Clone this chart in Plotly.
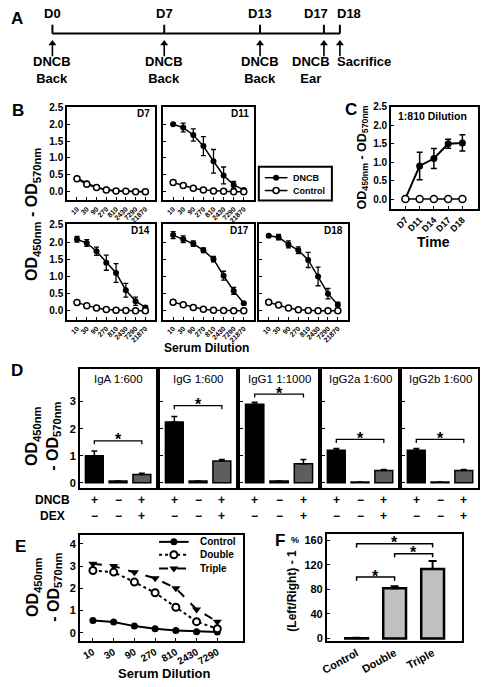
import plotly.graph_objects as go

W, H = 483, 687
FONT = "Liberation Sans, Arial, Helvetica, sans-serif"

# ---------------- Panel A data ----------------
a_days = [0, 7, 13, 17, 18]
a_day_labels = ["D0", "D7", "D13", "D17", "D18"]
a_events = ["DNCB<br>Back", "DNCB<br>Back", "DNCB<br>Back", "DNCB<br>Ear", "Sacrifice"]

# ---------------- Panel B data ----------------
b_dilutions = ["10", "30", "90", "270", "810", "2430", "7290", "21870"]
b_panel_names = ["D7", "D11", "D14", "D17", "D18"]
b_d7_dncb = [0.40, 0.25, 0.13, 0.06, 0.02, 0.01, 0.00, 0.00]
b_d7_dncb_err = [0.02, 0.02, 0.01, 0.01, 0.01, 0.00, 0.00, 0.00]
b_d7_ctrl = [0.38, 0.22, 0.12, 0.05, 0.02, 0.01, 0.00, 0.00]
b_d11_dncb = [2.00, 1.90, 1.68, 1.35, 0.90, 0.48, 0.20, 0.05]
b_d11_dncb_err = [0.02, 0.13, 0.18, 0.28, 0.35, 0.25, 0.10, 0.04]
b_d11_ctrl = [0.27, 0.18, 0.10, 0.05, 0.02, 0.01, 0.00, 0.00]
b_d14_dncb = [2.08, 1.97, 1.73, 1.40, 1.10, 0.60, 0.28, 0.10]
b_d14_dncb_err = [0.08, 0.10, 0.12, 0.22, 0.27, 0.20, 0.12, 0.05]
b_d14_ctrl = [0.24, 0.15, 0.08, 0.04, 0.02, 0.01, 0.00, 0.00]
b_d17_dncb = [2.20, 2.08, 1.95, 1.76, 1.50, 1.02, 0.58, 0.22]
b_d17_dncb_err = [0.10, 0.10, 0.08, 0.07, 0.08, 0.13, 0.10, 0.04]
b_d17_ctrl = [0.25, 0.18, 0.10, 0.05, 0.02, 0.01, 0.00, 0.00]
b_d18_dncb = [2.18, 2.14, 1.93, 1.76, 1.48, 1.00, 0.50, 0.18]
b_d18_dncb_err = [0.03, 0.08, 0.10, 0.10, 0.22, 0.27, 0.15, 0.07]
b_d18_ctrl = [0.25, 0.17, 0.08, 0.03, 0.01, 0.00, 0.00, 0.00]

# ---------------- Panel C data ----------------
c_times = ["D7", "D11", "D14", "D17", "D18"]
c_dncb = [0.02, 0.90, 1.10, 1.50, 1.52]
c_dncb_err = [0.00, 0.37, 0.27, 0.12, 0.22]
c_ctrl = [0.01, 0.01, 0.01, 0.01, 0.01]

# ---------------- Panel D data ----------------
d_titles = ["IgA 1:600", "IgG 1:600", "IgG1 1:1000", "IgG2a 1:600", "IgG2b 1:600"]
d_dncb_signs = ["+", "\u2212", "+"]
d_dex_signs = ["\u2212", "\u2212", "+"]
d_iga = [1.00, 0.06, 0.30]
d_iga_err = [0.17, 0.00, 0.05]
d_igg = [2.25, 0.06, 0.80]
d_igg_err = [0.20, 0.00, 0.06]
d_igg1 = [2.90, 0.06, 0.70]
d_igg1_err = [0.08, 0.00, 0.16]
d_igg2a = [1.20, 0.03, 0.45]
d_igg2a_err = [0.07, 0.00, 0.04]
d_igg2b = [1.20, 0.03, 0.45]
d_igg2b_err = [0.07, 0.00, 0.04]
d_bracket = [1.55, 2.85, 3.28, 1.60, 1.60]

# ---------------- Panel E data ----------------
e_dilutions = ["10", "30", "90", "270", "810", "2430", "7290"]
e_control = [0.55, 0.48, 0.30, 0.18, 0.10, 0.05, 0.03]
e_double = [2.80, 2.73, 2.28, 1.80, 1.15, 0.50, 0.18]
e_triple = [3.10, 3.00, 2.72, 2.45, 2.00, 1.05, 0.50]

# ---------------- Panel F data ----------------
f_groups = ["Control", "Double", "Triple"]
f_values = [0.5, 82, 113]
f_err = [1.0, 3.0, 13.0]
f_bracket_from = [0, 1, 0]
f_bracket_to = [1, 2, 2]
f_bracket_level = [100, 138, 154]

# ======================================================
fig = go.Figure()
layout = dict(width=W, height=H, margin=dict(l=0, r=0, t=0, b=0),
              paper_bgcolor="white", plot_bgcolor="rgba(0,0,0,0)",
              showlegend=False, font=dict(family=FONT, color="black"))
annotations = []
shapes = []


def tf(size, bold=True):
    d = dict(family=FONT, size=size, color="black")
    if bold:
        d["weight"] = "bold"
    return d


def make_axes(n, box, xr, yr, xkw=None, ykw=None, frame=True):
    x0, x1, y0, y1 = box
    xs = "" if n == 1 else str(n)
    base = dict(showgrid=False, zeroline=False, showline=frame, mirror=frame,
                linewidth=2, linecolor="black", ticks="inside", ticklen=3,
                tickwidth=1.2, tickcolor="black", tickfont=tf(10), fixedrange=True)
    xa = dict(base)
    xa.update(domain=[x0 / W, x1 / W], range=xr, anchor="y" + xs)
    if xkw:
        xa.update(xkw)
    ya = dict(base)
    ya.update(domain=[1 - y1 / H, 1 - y0 / H], range=yr, anchor="x" + xs)
    if ykw:
        ya.update(ykw)
    layout["xaxis" + xs] = xa
    layout["yaxis" + xs] = ya


def add(tr, n):
    xs = "" if n == 1 else str(n)
    tr.update(xaxis="x" + xs, yaxis="y" + xs, hoverinfo="skip")
    fig.add_trace(tr)


def ptxt(x, y, s, size, bold=True, xanchor="center", yanchor="middle", angle=0):
    annotations.append(dict(x=x / W, y=1 - y / H, xref="paper", yref="paper", text=s,
                            showarrow=False, font=tf(size, bold), xanchor=xanchor,
                            yanchor=yanchor, textangle=angle))


# ---------------- Panel A ----------------
make_axes(1, (0, 483, 0, 90), [-2.907, 26.96], [-61, 29], frame=False,
          xkw=dict(visible=False), ykw=dict(visible=False))
add(go.Scatter(x=[a_days[0], a_days[-1]], y=[0, 0], mode="lines",
               line=dict(color="black", width=2)), 1)
tx, ty, sx, sy = [], [], [], []
for d in a_days:
    tx += [d, d, None]
    ty += [0, 9, None]
    sx += [d, d, None]
    sy += [-23, -11, None]
add(go.Scatter(x=tx, y=ty, mode="lines", line=dict(color="black", width=2)), 1)
add(go.Scatter(x=sx, y=sy, mode="lines", line=dict(color="black", width=1.6)), 1)
add(go.Scatter(x=a_days, y=[-10] * len(a_days), mode="markers",
               marker=dict(symbol="triangle-up", size=7, color="black")), 1)
day_shift = [0, 0, 0, -8, 9]
ev_shift = [0, 0, 0, -13, -5]
for d, lab, ev, s1, s2 in zip(a_days, a_day_labels, a_events, day_shift, ev_shift):
    annotations.append(dict(x=d, y=20, xref="x", yref="y", text=lab, showarrow=False,
                            font=tf(13), xshift=s1))
    if "<br>" in ev:
        annotations.append(dict(x=d, y=-36.5, xref="x", yref="y", text=ev, showarrow=False,
                                font=tf(13), xshift=s2))
    else:
        annotations.append(dict(x=d, y=-28, xref="x", yref="y", text=ev, showarrow=False,
                                font=tf(13), xanchor="left", xshift=s2))
ptxt(11, 14, "A", 17)

# ---------------- Panel B ----------------
b_all = [(b_d7_dncb, b_d7_dncb_err, b_d7_ctrl), (b_d11_dncb, b_d11_dncb_err, b_d11_ctrl),
         (b_d14_dncb, b_d14_dncb_err, b_d14_ctrl), (b_d17_dncb, b_d17_dncb_err, b_d17_ctrl),
         (b_d18_dncb, b_d18_dncb_err, b_d18_ctrl)]
b_boxes = [(62, 151, 103, 198), (159, 251, 103, 198), (62, 151, 222, 319),
           (159, 251, 222, 319), (256, 346, 222, 319)]
b_ylab = [True, False, True, False, False]
bx = list(range(len(b_dilutions)))
for i, ((dn, de, ct), box, yl, name) in enumerate(zip(b_all, b_boxes, b_ylab, b_panel_names)):
    n = 2 + i
    make_axes(n, box, [-1, 8], [-0.26, 2.52],
              xkw=dict(tickvals=bx, ticktext=b_dilutions, tickangle=-45, tickfont=tf(7)),
              ykw=dict(tickvals=[0, 0.5, 1, 1.5, 2, 2.5], tickformat=".1f",
                       showticklabels=yl, tickfont=tf(10)))
    add(go.Scatter(x=bx, y=dn, mode="lines+markers", line=dict(color="black", width=1.5),
                   marker=dict(symbol="circle", size=6, color="black"),
                   error_y=dict(type="data", array=de, color="black", thickness=1.3, width=2.5)), n)
    add(go.Scatter(x=bx, y=ct, mode="lines+markers", line=dict(color="black", width=1.5),
                   marker=dict(symbol="circle", size=6, color="white",
                               line=dict(color="black", width=1.5))), n)
    ptxt(box[1] - 3, box[2] + 7, name, 10, xanchor="right")
ptxt(12, 107, "B", 17)
ptxt(27, 212, "OD<sub>450nm</sub> - OD<sub>570nm</sub>", 16, angle=-90)
ptxt(203, 348, "Serum Dilution", 12)

# B legend (pixel overlay axis 16)
make_axes(16, (0, 483, 0, 687), [0, 483], [687, 0], frame=False,
          xkw=dict(visible=False), ykw=dict(visible=False))
shapes.append(dict(type="rect", xref="paper", yref="paper", x0=256 / W, x1=330 / W,
                   y0=1 - 198 / H, y1=1 - 164 / H, line=dict(color="black", width=2)))
add(go.Scatter(x=[262, 285], y=[175, 175], mode="lines", line=dict(color="black", width=1.5)), 16)
add(go.Scatter(x=[273.5], y=[175], mode="markers", marker=dict(size=6, color="black")), 16)
add(go.Scatter(x=[262, 285], y=[188, 188], mode="lines", line=dict(color="black", width=1.5)), 16)
add(go.Scatter(x=[273.5], y=[188], mode="markers",
               marker=dict(size=6, color="white", line=dict(color="black", width=1.5))), 16)
ptxt(289, 175, "DNCB", 9, xanchor="left")
ptxt(289, 188, "Control", 9, xanchor="left")

# ---------------- Panel C ----------------
cx = list(range(len(c_times)))
make_axes(8, (390, 478, 103, 207), [-1, 5.1], [-0.27, 2.5],
          xkw=dict(tickvals=cx, ticktext=c_times, tickangle=-45, tickfont=tf(9)),
          ykw=dict(tickvals=[0, 0.5, 1, 1.5, 2, 2.5], tickformat=".1f", tickfont=tf(10)))
add(go.Scatter(x=cx, y=c_dncb, mode="lines+markers", line=dict(color="black", width=2),
               marker=dict(size=7, color="black"),
               error_y=dict(type="data", array=c_dncb_err, color="black", thickness=1.5, width=3)), 8)
add(go.Scatter(x=cx, y=c_ctrl, mode="lines+markers", line=dict(color="black", width=1.5),
               marker=dict(size=7, color="white", line=dict(color="black", width=1.5))), 8)
ptxt(349, 106, "C", 17)
ptxt(432, 112, "1:810 Dilution", 10.5)
ptxt(433, 240, "Time", 14)
ptxt(361, 155, "OD<sub>450nm</sub> - OD<sub>570nm</sub>", 12.5, angle=-90)

# ---------------- Panel D ----------------
d_vals = [d_iga, d_igg, d_igg1, d_igg2a, d_igg2b]
d_errs = [d_iga_err, d_igg_err, d_igg1_err, d_igg2a_err, d_igg2b_err]
d_boxes_x = [(75, 152), (156, 233), (237, 316), (320, 397), (401, 478)]
d_xrange = [-0.6, 2.6]
dx = [0, 1, 2]
for i in range(5):
    n = 9 + i
    x0, x1 = d_boxes_x[i]
    make_axes(n, (x0, x1, 369, 489), d_xrange, [-0.18, 4.2],
              xkw=dict(ticks="", showticklabels=False),
              ykw=dict(tickvals=[0, 1, 2, 3], showticklabels=(i == 0), tickfont=tf(11)))
    add(go.Bar(x=dx, y=d_vals[i], width=0.75,
               marker=dict(color=["black", "black", "#5e5e5e"], line=dict(color="black", width=1.5)),
               error_y=dict(type="data", array=d_errs[i], arrayminus=[0, 0, 0], symmetric=False,
                            color="black", thickness=1.5, width=3)), n)
    b = d_bracket[i]
    add(go.Scatter(x=[0, 0, 2, 2], y=[b - 0.13, b, b, b - 0.13], mode="lines",
                   line=dict(color="black", width=1.3)), n)
    annotations.append(dict(x=1, y=b, xref="x%d" % n, yref="y%d" % n, text="*", showarrow=False,
                            font=tf(16), yanchor="middle", yshift=1))
    ptxt((x0 + x1) / 2, 379, d_titles[i], 11.5, bold=False)
    for j in dx:
        cxp = x0 + (j - d_xrange[0]) / (d_xrange[1] - d_xrange[0]) * (x1 - x0)
        ptxt(cxp, 509.5, d_dncb_signs[j] + "<br>" + d_dex_signs[j], 12)
ptxt(67, 509.5, "DNCB<br>DEX", 12, xanchor="right")
ptxt(11, 370, "D", 17)
ptxt(38, 437, "OD<sub>450nm</sub><br>- OD<sub>570nm</sub>", 16, angle=-90)

# ---------------- Panel E ----------------
ex = list(range(len(e_dilutions)))
make_axes(14, (75, 240, 537, 644), [-0.62, 7.24], [-0.35, 4.4],
          xkw=dict(tickvals=ex, ticktext=e_dilutions, tickangle=-30, tickfont=tf(10)),
          ykw=dict(tickvals=[0, 1, 2, 3, 4], tickfont=tf(11)))
add(go.Scatter(x=ex, y=e_control, mode="lines+markers", line=dict(color="black", width=2),
               marker=dict(symbol="circle", size=7, color="black")), 14)
add(go.Scatter(x=ex, y=e_double, mode="lines+markers", line=dict(color="black", width=2, dash="dot"),
               marker=dict(symbol="circle", size=7, color="white", line=dict(color="black", width=2))), 14)
add(go.Scatter(x=ex, y=e_triple, mode="lines+markers", line=dict(color="black", width=2, dash="dash"),
               marker=dict(symbol="triangle-down", size=8, color="black")), 14)
# E legend
add(go.Scatter(x=[155, 185], y=[544, 544], mode="lines", line=dict(color="black", width=2)), 16)
add(go.Scatter(x=[170], y=[544], mode="markers", marker=dict(size=7, color="black")), 16)
add(go.Scatter(x=[155, 185], y=[557, 557], mode="lines", line=dict(color="black", width=2, dash="dot")), 16)
add(go.Scatter(x=[170], y=[557], mode="markers",
               marker=dict(size=7, color="white", line=dict(color="black", width=2))), 16)
add(go.Scatter(x=[155, 185], y=[571, 571], mode="lines", line=dict(color="black", width=2, dash="dash")), 16)
add(go.Scatter(x=[170], y=[571], mode="markers", marker=dict(symbol="triangle-down", size=8, color="black")), 16)
ptxt(194, 544, "Control", 10, xanchor="left")
ptxt(194, 557, "Double", 10, xanchor="left")
ptxt(194, 571, "Triple", 10, xanchor="left")
ptxt(15, 549, "E", 17)
ptxt(39, 590, "OD<sub>450nm</sub><br>- OD<sub>570nm</sub>", 16, angle=-90)
ptxt(160, 677, "Serum Dilution", 13)

# ---------------- Panel F ----------------
fx = list(range(len(f_groups)))
make_axes(15, (325, 462, 536, 644), [-0.78, 2.78], [-3.2, 170],
          xkw=dict(tickvals=fx, ticktext=f_groups, tickangle=-29, ticks="", tickfont=tf(11)),
          ykw=dict(tickvals=[0, 40, 80, 120, 160], tickfont=tf(11)))
add(go.Bar(x=fx, y=f_values, width=0.6,
           marker=dict(color="#c0c0c0", line=dict(color="black", width=2.5)),
           error_y=dict(type="data", array=f_err, arrayminus=[0, 0, 0], symmetric=False,
                        color="black", thickness=2, width=4)), 15)
for a, b, h in zip(f_bracket_from, f_bracket_to, f_bracket_level):
    add(go.Scatter(x=[a, a, b, b], y=[h - 6, h, h, h - 6], mode="lines",
                   line=dict(color="black", width=1.5)), 15)
    annotations.append(dict(x=(a + b) / 2, y=h, xref="x15", yref="y15", text="*", showarrow=False,
                            font=tf(16), yanchor="middle", yshift=1))
ptxt(277, 543, "F", 17)
ptxt(293, 542, "%", 9)
ptxt(290, 593, "(Left/Right) - 1", 12, angle=-90)

layout["annotations"] = annotations
layout["shapes"] = shapes
fig.update_layout(**layout)
fig.write_html("out.html", config={"displayModeBar": False},
               post_script="document.body.style.margin='0px';document.body.style.padding='0px';"
                           "document.body.style.overflow='hidden';")
